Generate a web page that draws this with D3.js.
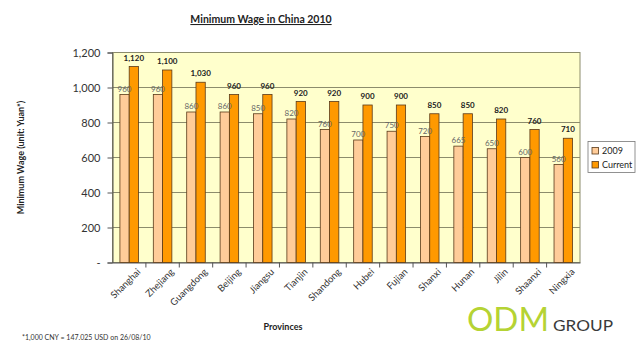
<!DOCTYPE html>
<html>
<head>
<meta charset="utf-8">
<script src="https://cdn.jsdelivr.net/npm/d3@7"></script>
<style>
body { margin: 0; background: #fff; }
text { font-family: Lato, "Open Sans", sans-serif; }
</style>
</head>
<body>
<div id="chart"></div>
<script>
const provinces = ["Shanghai", "Zhejiang", "Guangdong", "Beijing", "Jiangsu", "Tianjin", "Shandong",
    "Hubei", "Fujian", "Shanxi", "Hunan", "Jilin", "Shaanxi", "Ningxia"]
const wage2009 = [960, 960, 860, 860, 850, 820, 760, 700, 750, 720, 665, 650, 600, 560]
const wageCurrent = [1120, 1100, 1030, 960, 960, 920, 920, 900, 900, 850, 850, 820, 760, 710]
const seriesNames = ["2009", "Current"]
const yTicks = [0, 200, 400, 600, 800, 1000, 1200]

const width = 640
const height = 345
const margins = { top: 52.5, bottom: 82.5, left: 112.5, right: 60 }

const data = provinces.map((p, i) => ({ province: p, values: [wage2009[i], wageCurrent[i]] }))

const svg = d3.select("#chart")
    .append("svg")
    .attr("width", width)
    .attr("height", height)

const xScale = d3.scaleBand()
    .domain(provinces)
    .range([margins.left, width - margins.right])

const xInner = d3.scaleBand()
    .domain(seriesNames)
    .range([0, xScale.bandwidth()])
    .paddingOuter(0.8)

const yScale = d3.scaleLinear()
    .domain([0, 1200])
    .range([height - margins.bottom, margins.top])

const color = d3.scaleOrdinal()
    .domain(seriesNames)
    .range(["#ffcc99", "#ff9900"])

// plot background
svg.append("rect")
    .attr("x", margins.left)
    .attr("y", margins.top)
    .attr("width", width - margins.right - margins.left)
    .attr("height", height - margins.bottom - margins.top)
    .attr("fill", "#ffffcc")
    .attr("stroke", "#8c8c6c")
    .attr("stroke-width", 1)

// gridlines
svg.selectAll("line.grid")
    .data(yTicks.slice(1))
    .join("line")
    .attr("class", "grid")
    .attr("x1", margins.left)
    .attr("x2", width - margins.right)
    .attr("y1", d => yScale(d))
    .attr("y2", d => yScale(d))
    .attr("stroke", "#8c8c6c")
    .attr("stroke-width", 1)

// y axis
const yAxis = svg.append("g")
    .attr("transform", `translate(${margins.left},0)`)
    .call(d3.axisLeft(yScale).tickValues(yTicks).tickSize(5).tickPadding(7)
        .tickFormat(d => d === 0 ? "-" : d3.format(",")(d)))
yAxis.select(".domain").attr("stroke", "#555")
yAxis.selectAll(".tick line").attr("stroke", "#555")
yAxis.selectAll("text").attr("font-size", 11).attr("fill", "#333")
    .style("font-family", "Lato, sans-serif")

// x axis
const xAxis = svg.append("g")
    .attr("transform", `translate(0,${height - margins.bottom})`)
    .call(d3.axisBottom(xScale).tickSize(0).tickPadding(8))
xAxis.select(".domain").attr("stroke", "#555")
xAxis.selectAll("text")
    .attr("font-size", 9.5)
    .attr("fill", "#333")
    .style("font-family", "Lato, sans-serif")
    .attr("text-anchor", "end")
    .attr("dy", "0.35em")
    .attr("transform", "translate(4,2) rotate(-45)")

// category separators
svg.selectAll("line.sep")
    .data(provinces.slice(1))
    .join("line")
    .attr("class", "sep")
    .attr("x1", d => xScale(d))
    .attr("x2", d => xScale(d))
    .attr("y1", height - margins.bottom)
    .attr("y2", height - margins.bottom + 5)
    .attr("stroke", "#555")

// bars
const groups = svg.selectAll("g.group")
    .data(data)
    .join("g")
    .attr("class", "group")
    .attr("transform", d => `translate(${xScale(d.province)},0)`)

groups.selectAll("rect")
    .data(d => d.values.map((v, i) => ({ series: seriesNames[i], value: v })))
    .join("rect")
    .attr("x", d => xInner(d.series))
    .attr("y", d => yScale(d.value))
    .attr("width", xInner.bandwidth())
    .attr("height", d => yScale(0) - yScale(d.value))
    .attr("fill", d => color(d.series))
    .attr("stroke", "#5a3a1a")
    .attr("stroke-width", 0.8)

groups.selectAll("text.val")
    .data(d => d.values.map((v, i) => ({ series: seriesNames[i], value: v })))
    .join("text")
    .attr("class", "val")
    .attr("x", d => xInner(d.series) + xInner.bandwidth() / 2)
    .attr("y", d => yScale(d.value) - (d.series === "2009" ? 3 : 6))
    .attr("text-anchor", "middle")
    .attr("font-size", 8)
    .attr("font-weight", d => d.series === "2009" ? "normal" : "bold")
    .attr("fill", d => d.series === "2009" ? "#666" : "#222")
    .text(d => d3.format(",")(d.value))

// title
svg.append("text")
    .attr("x", 261)
    .attr("y", 23)
    .attr("text-anchor", "middle")
    .attr("font-size", 10.5)
    .attr("font-weight", "bold")
    .attr("fill", "#222")
    .attr("text-decoration", "underline")
    .text("Minimum Wage in China 2010")

// axis titles
svg.append("text")
    .attr("transform", `translate(24,${(margins.top + height - margins.bottom) / 2}) rotate(-90)`)
    .attr("text-anchor", "middle")
    .attr("font-size", 9)
    .attr("font-weight", "bold")
    .attr("fill", "#222")
    .text("Minimum Wage (unit: Yuan*)")

svg.append("text")
    .attr("x", 283)
    .attr("y", 330)
    .attr("text-anchor", "middle")
    .attr("font-size", 9)
    .attr("font-weight", "bold")
    .attr("fill", "#222")
    .text("Provinces")

// footnote
svg.append("text")
    .attr("x", 22)
    .attr("y", 340)
    .attr("font-size", 7)
    .attr("fill", "#333")
    .text("*1,000 CNY = 147.025 USD on 26/08/10")

// legend
const legend = svg.append("g").attr("transform", "translate(588,141.5)")
legend.append("rect")
    .attr("width", 47)
    .attr("height", 31)
    .attr("fill", "#fff")
    .attr("stroke", "#777")
    .attr("stroke-width", 0.8)
legend.selectAll("g.item")
    .data(seriesNames)
    .join("g")
    .attr("class", "item")
    .attr("transform", (d, i) => `translate(4,${6 + i * 14})`)
    .call(g => g.append("rect")
        .attr("width", 6.5)
        .attr("height", 6.5)
        .attr("fill", d => color(d))
        .attr("stroke", "#5a3a1a")
        .attr("stroke-width", 0.8))
    .call(g => g.append("text")
        .attr("x", 10)
        .attr("y", 3.5)
        .attr("dy", "0.35em")
        .attr("font-size", 9)
        .attr("fill", "#222")
        .text(d => d))

// logo
svg.append("text")
    .attr("x", 467)
    .attr("y", 331)
    .attr("font-size", 32)
    .attr("font-weight", 400)
    .attr("fill", "#b5d334")
    .attr("textLength", 82)
    .attr("lengthAdjust", "spacingAndGlyphs")
    .text("ODM")
svg.append("text")
    .attr("x", 553)
    .attr("y", 331)
    .attr("font-size", 15.5)
    .attr("fill", "#3a3a3a")
    .attr("textLength", 60)
    .attr("lengthAdjust", "spacingAndGlyphs")
    .text("GROUP")
</script>
</body>
</html>
